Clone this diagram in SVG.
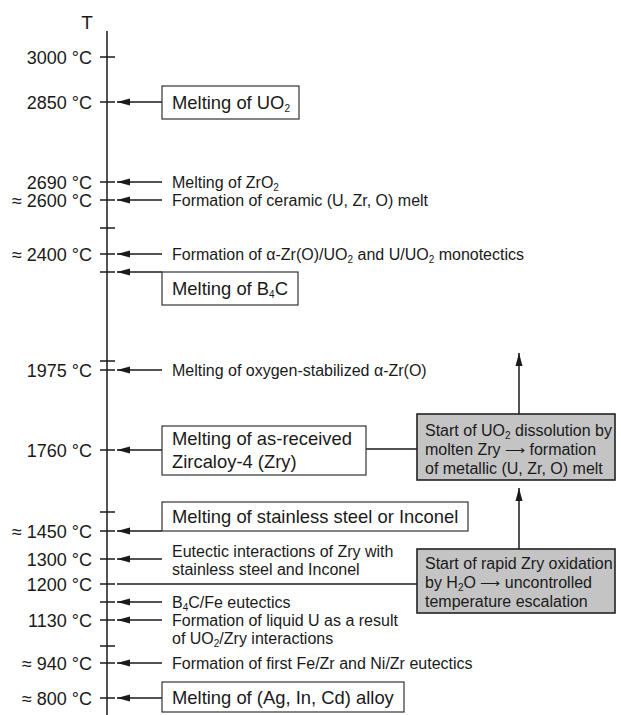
<svg xmlns="http://www.w3.org/2000/svg" width="621" height="715" viewBox="0 0 621 715">
<defs>
<marker id="ah" markerUnits="userSpaceOnUse" markerWidth="14" markerHeight="10" refX="0" refY="5" orient="auto" viewBox="0 0 14 10">
<path d="M0,5 L13,1.5 L13,8.5 Z" fill="#1a1a1a"/>
</marker>
</defs>
<style>
text{font-family:"Liberation Sans",Arial,sans-serif;fill:#1a1a1a}
.t{font-size:18px;text-anchor:end}
.s{font-size:16px}
.b{font-size:18.4px}
.g{font-size:16px}
.box{fill:#fff;stroke:#333;stroke-width:1.2}
.gbox{fill:#c4c4c4;stroke:#222;stroke-width:1.6}
.ln{stroke:#1a1a1a;stroke-width:1.5;fill:none}
.ar{stroke:#1a1a1a;stroke-width:1.5;fill:none;marker-start:url(#ah)}
.sub{font-size:10px}
</style>

<g id="axis">
<line class="ln" x1="107" y1="31" x2="107" y2="715"/>
<text x="87" y="29" style="font-size:19px;text-anchor:middle">T</text>
<g class="ticks">
<line class="ln" x1="100" y1="57" x2="115" y2="57"/>
<line class="ln" x1="100" y1="102" x2="115" y2="102"/>
<line class="ln" x1="100" y1="182" x2="115" y2="182"/>
<line class="ln" x1="100" y1="200" x2="115" y2="200"/>
<line class="ln" x1="100" y1="228" x2="115" y2="228"/>
<line class="ln" x1="100" y1="254" x2="115" y2="254"/>
<line class="ln" x1="100" y1="272" x2="115" y2="272"/>
<line class="ln" x1="100" y1="361" x2="115" y2="361"/>
<line class="ln" x1="100" y1="370" x2="115" y2="370"/>
<line class="ln" x1="100" y1="450" x2="115" y2="450"/>
<line class="ln" x1="100" y1="512" x2="115" y2="512"/>
<line class="ln" x1="100" y1="531" x2="115" y2="531"/>
<line class="ln" x1="100" y1="559" x2="115" y2="559"/>
<line class="ln" x1="100" y1="584" x2="115" y2="584"/>
<line class="ln" x1="100" y1="602" x2="115" y2="602"/>
<line class="ln" x1="100" y1="620" x2="115" y2="620"/>
<line class="ln" x1="100" y1="646" x2="115" y2="646"/>
<line class="ln" x1="100" y1="663" x2="115" y2="663"/>
<line class="ln" x1="100" y1="698" x2="115" y2="698"/>
</g>
<g class="labels">
<text class="t" x="92" y="63.5">3000 °C</text>
<text class="t" x="92" y="108.5">2850 °C</text>
<text class="t" x="92" y="188.5">2690 °C</text>
<text class="t" x="92" y="206.5">≈ 2600 °C</text>
<text class="t" x="92" y="260.5">≈ 2400 °C</text>
<text class="t" x="92" y="376.5">1975 °C</text>
<text class="t" x="92" y="456.5">1760 °C</text>
<text class="t" x="92" y="537.5">≈ 1450 °C</text>
<text class="t" x="92" y="565.5">1300 °C</text>
<text class="t" x="92" y="590.5">1200 °C</text>
<text class="t" x="92" y="626.5">1130 °C</text>
<text class="t" x="92" y="669.5">≈ 940 °C</text>
<text class="t" x="92" y="704.5">≈ 800 °C</text>
</g>
</g>

<g id="connectors">
<line class="ar" x1="117" y1="102" x2="162" y2="102"/>
<line class="ar" x1="117" y1="182" x2="162" y2="182"/>
<line class="ar" x1="117" y1="200" x2="162" y2="200"/>
<line class="ar" x1="117" y1="254" x2="162" y2="254"/>
<line class="ar" x1="117" y1="272" x2="162" y2="272"/>
<line class="ar" x1="117" y1="370" x2="162" y2="370"/>
<line class="ar" x1="117" y1="450" x2="162" y2="450"/>
<line class="ar" x1="117" y1="531" x2="162" y2="531"/>
<line class="ar" x1="117" y1="559" x2="162" y2="559"/>
<line class="ln" x1="117" y1="584" x2="417" y2="584"/>
<line class="ar" x1="117" y1="602" x2="162" y2="602"/>
<line class="ar" x1="117" y1="620" x2="162" y2="620"/>
<line class="ar" x1="117" y1="663" x2="162" y2="663"/>
<line class="ar" x1="117" y1="698" x2="162" y2="698"/>
<line class="ln" x1="366" y1="449" x2="417" y2="449"/>
<line class="ar" x1="519" y1="353" x2="519" y2="414"/>
<line class="ar" x1="519" y1="488" x2="519" y2="549"/>
</g>

<g id="n-uo2">
<rect class="box" x="162" y="86" width="137" height="33"/>
<text class="b" x="172" y="109">Melting of UO<tspan class="sub" dy="3">2</tspan></text>
</g>
<g id="n-zro2">
<text class="s" x="172" y="188">Melting of ZrO<tspan class="sub" dy="3">2</tspan></text>
</g>
<g id="n-ceramic">
<text class="s" x="172" y="206">Formation of ceramic (U, Zr, O) melt</text>
</g>
<g id="n-monotectics">
<text class="s" x="172" y="260">Formation of α-Zr(O)/UO<tspan class="sub" dy="3">2</tspan><tspan dy="-3"> and U/UO</tspan><tspan class="sub" dy="3">2</tspan><tspan dy="-3"> monotectics</tspan></text>
</g>
<g id="n-b4c">
<rect class="box" x="162" y="272" width="136" height="33"/>
<text class="b" x="172" y="295">Melting of B<tspan class="sub" dy="3">4</tspan><tspan dy="-3">C</tspan></text>
</g>
<g id="n-alphazr">
<text class="s" x="172" y="376">Melting of oxygen-stabilized α-Zr(O)</text>
</g>
<g id="n-zry">
<rect class="box" x="162" y="426" width="204" height="49"/>
<text class="b" x="172" y="445">Melting of as-received</text>
<text class="b" x="172" y="468">Zircaloy-4 (Zry)</text>
</g>
<g id="n-steel">
<rect class="box" x="162" y="502" width="306" height="29"/>
<text class="b" x="172" y="523">Melting of stainless steel or Inconel</text>
</g>
<g id="n-eutectic">
<text class="s" x="172" y="557">Eutectic interactions of Zry with</text>
<text class="s" x="172" y="575">stainless steel and Inconel</text>
</g>
<g id="n-b4cfe">
<text class="s" x="172" y="608">B<tspan class="sub" dy="3">4</tspan><tspan dy="-3">C/Fe eutectics</tspan></text>
</g>
<g id="n-liquidu">
<text class="s" x="172" y="626">Formation of liquid U as a result</text>
<text class="s" x="172" y="644">of UO<tspan class="sub" dy="3">2</tspan><tspan dy="-3">/Zry interactions</tspan></text>
</g>
<g id="n-fezr">
<text class="s" x="172" y="669">Formation of first Fe/Zr and Ni/Zr eutectics</text>
</g>
<g id="n-agincd">
<rect class="box" x="162" y="682" width="242" height="30"/>
<text class="b" x="172" y="704">Melting of (Ag, In, Cd) alloy</text>
</g>
<g id="n-dissolution">
<rect class="gbox" x="417" y="414" width="198" height="66"/>
<text class="g" x="425" y="436">Start of UO<tspan class="sub" dy="3">2</tspan><tspan dy="-3"> dissolution by</tspan></text>
<text class="g" x="425" y="455">molten Zry <tspan font-size="14">⟶</tspan> formation</text>
<text class="g" x="425" y="474">of metallic (U, Zr, O) melt</text>
</g>
<g id="n-oxidation">
<rect class="gbox" x="417" y="549" width="198" height="64"/>
<text class="g" x="425" y="569">Start of rapid Zry oxidation</text>
<text class="g" x="425" y="588">by H<tspan class="sub" dy="3">2</tspan><tspan dy="-3">O </tspan><tspan font-size="14">⟶</tspan> uncontrolled</text>
<text class="g" x="425" y="607">temperature escalation</text>
</g>
</svg>
